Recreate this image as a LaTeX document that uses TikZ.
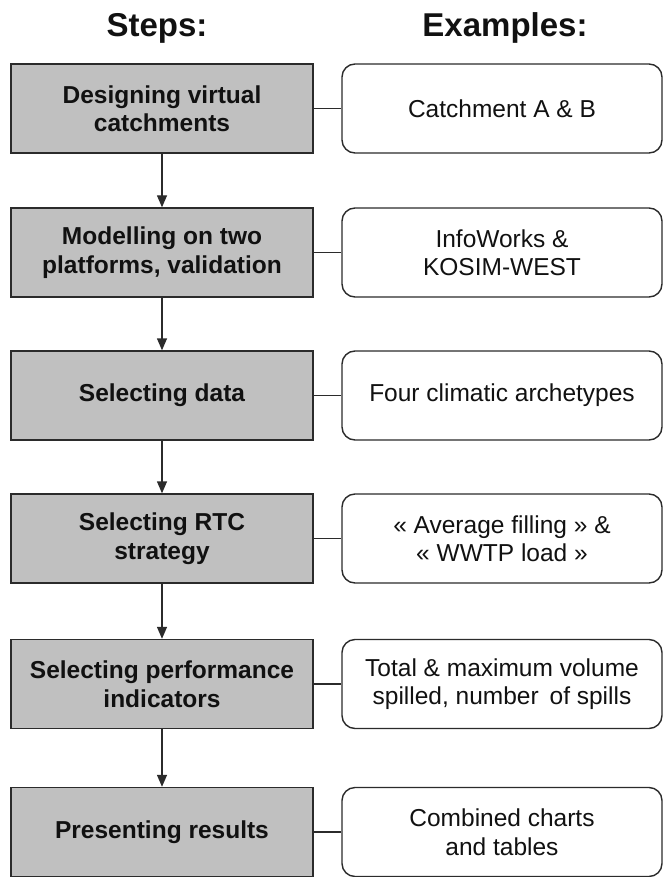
\documentclass[tikz,border=0pt]{standalone}
\usepackage{fontspec}
\setmainfont{Liberation Sans}
\usetikzlibrary{arrows.meta}

\definecolor{stepfill}{HTML}{C0C0C0}
\definecolor{edgecol}{HTML}{2B2B2B}
\definecolor{inkcol}{HTML}{111111}

\tikzset{
  stepbox/.style={draw=edgecol, line width=1.4pt, fill=stepfill,
    minimum width=302pt, minimum height=89pt, inner sep=0pt, align=center,
    text=inkcol, font=\fontsize{24.5}{28.5}\selectfont\bfseries},
  examplebox/.style={draw=edgecol, line width=1.4pt, fill=white,
    rounded corners=13pt, minimum width=320pt, minimum height=89pt,
    inner sep=0pt, align=center, text=inkcol,
    font=\fontsize{24.5}{28.5}\selectfont},
  header/.style={font=\fontsize{33}{40}\selectfont\bfseries, text=inkcol,
    anchor=base, inner sep=0pt},
  flow/.style={draw=edgecol, line width=1.4pt,
    -{Triangle[width=10pt,length=12pt]}},
  link/.style={draw=edgecol, line width=1.4pt}
}

\begin{document}
\begin{tikzpicture}[x=1pt,y=-1pt]
  \useasboundingbox (0,0) rectangle (664,877);
  \clip (0,0) rectangle (664,877);

  % column headings
  \node[header] (hsteps) at (157,37) {Steps:};
  \node[header] (hex) at (505,37) {Examples:};

  % steps (left column)
  \node[stepbox] (s1) at (162,108.5) {Designing virtual\\catchments};
  \node[stepbox] (s2) at (162,252.5) {Modelling on two\\platforms, validation};
  \node[stepbox] (s3) at (162,395.5) {Selecting data};
  \node[stepbox] (s4) at (162,538.5) {Selecting RTC\\strategy};
  \node[stepbox] (s5) at (162,684) {Selecting performance\\indicators};
  \node[stepbox] (s6) at (162,832) {Presenting results};

  % examples (right column)
  \node[examplebox] (e1) at (502,108.5) {Catchment A \& B};
  \node[examplebox] (e2) at (502,252.5) {InfoWorks \&\\KOSIM-WEST};
  \node[examplebox] (e3) at (502,395.5) {Four climatic archetypes};
  \node[examplebox] (e4) at (502,538.5) {« Average filling » \&\\« WWTP load »};
  \node[examplebox] (e5) at (502,684) {Total \& maximum volume\\spilled, number\, of spills};
  \node[examplebox] (e6) at (502,832) {Combined charts\\and tables};

  % flow between steps
  \foreach \a/\b in {s1/s2,s2/s3,s3/s4,s4/s5,s5/s6}
    \draw[flow] (\a.south) -- (\b.north);

  % step-to-example links
  \foreach \i in {1,...,6}
    \draw[link] (s\i.east) -- (e\i.west);
\end{tikzpicture}
\end{document}
